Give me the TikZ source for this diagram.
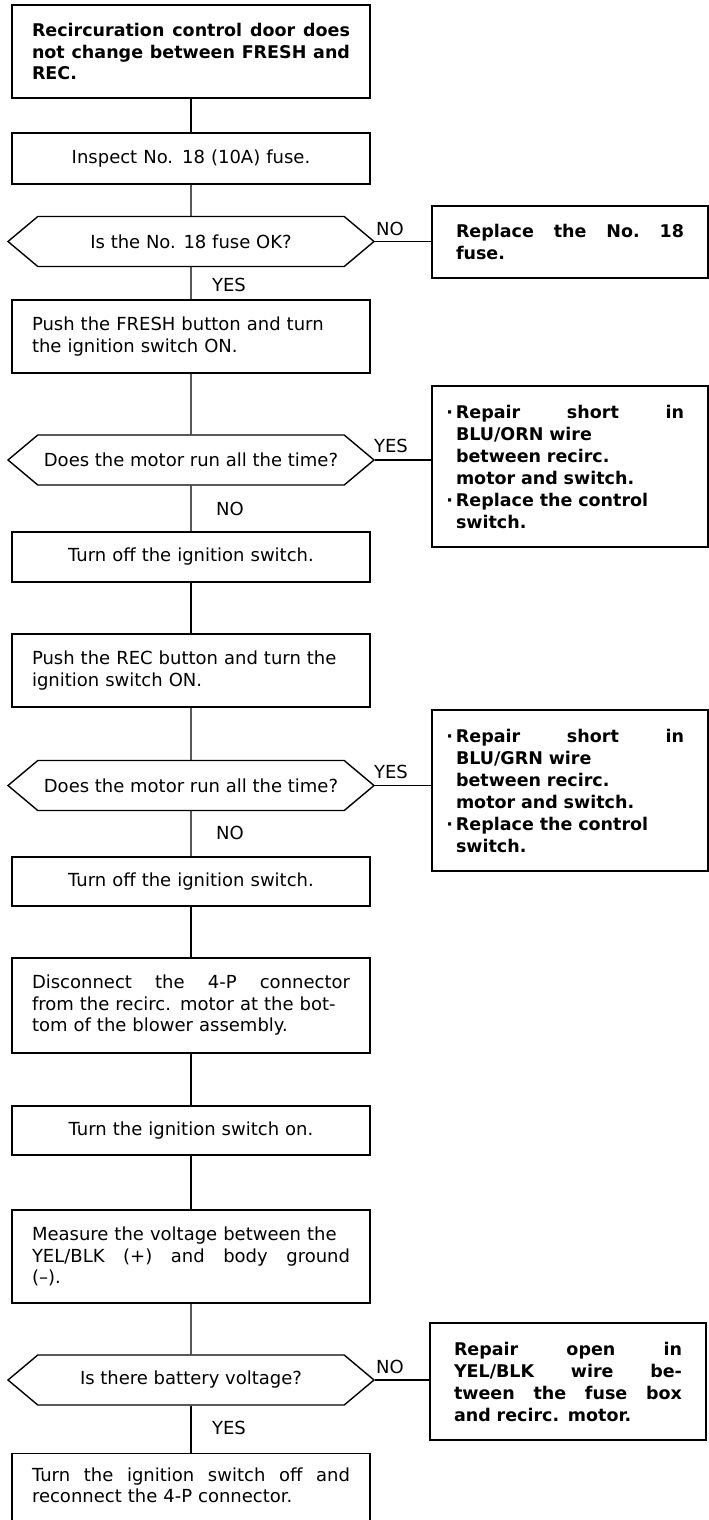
\documentclass[tikz,border=0pt]{standalone}
\usepackage{fontspec}
\setmainfont{DejaVu Sans}
\usetikzlibrary{shapes.symbols}

\begin{document}
\begin{tikzpicture}[x=1pt, y=-1pt, line width=1.4pt,
    stepbox/.style={draw, rectangle, text width=318pt, inner xsep=20pt, inner ysep=0pt, align=left, font=\fontsize{18}{21.5}\selectfont},
    fixbox/.style={draw, rectangle, text width=228pt, inner xsep=24pt, inner ysep=0pt, align=left, font=\fontsize{17.5}{22}\selectfont\bfseries},
    decision/.style={draw, signal, signal to=west and east, signal pointer angle=80, minimum width=366pt, minimum height=50pt, inner sep=0pt, font=\fontsize{18}{21.5}\selectfont},
    answer/.style={font=\fontsize{18}{21.5}\selectfont, inner sep=0pt}]

    \useasboundingbox (0,0) rectangle (709,1520);
    \clip (0,0) rectangle (709,1520);

    % symptom
    \node[stepbox, font=\fontsize{17.5}{21.5}\selectfont\bfseries, minimum height=93pt] (symptom) at (191,51.5) {Recircuration\hfill control\hfill door\hfill does\\ not\hfill change\hfill between\hfill FRESH\hfill and\\ REC.};

    % fuse
    \node[stepbox, align=center, minimum height=51pt] (fuse) at (191,158.5) {Inspect No. 18 (10A) fuse.};
    \node[decision] (fuseok) at (191,241.5) {Is the No. 18 fuse OK?};
    \node[fixbox, minimum height=72pt] (newfuse) at (570,242) {Replace\hfill the\hfill No.\hfill 18\\ fuse.};
    \node[answer] (no1) at (390,229) {NO};
    \node[answer] (yes1) at (229,285) {YES};

    % FRESH
    \node[stepbox, minimum height=73pt] (fresh) at (191,336.5) {Push the FRESH button and turn\\ the ignition switch ON.};
    \node[decision] (runfresh) at (191,460) {Does the motor run all the time?};
    \node[fixbox, minimum height=161pt] (shortorn) at (570,466.5) {\leavevmode\llap{·\,}Repair\hfill short\hfill in\\ BLU/ORN wire\\ between recirc.\\ motor and switch.\\ \leavevmode\llap{·\,}Replace the control\\ switch.};
    \node[answer] (yes2) at (391,446) {YES};
    \node[answer] (no2) at (230,509) {NO};
    \node[stepbox, align=center, minimum height=50pt] (off1) at (191,557) {Turn off the ignition switch.};

    % REC
    \node[stepbox, minimum height=73pt] (rec) at (191,670.5) {Push the REC button and turn the\\ ignition switch ON.};
    \node[decision] (runrec) at (191,785.5) {Does the motor run all the time?};
    \node[fixbox, minimum height=161pt] (shortgrn) at (570,790.5) {\leavevmode\llap{·\,}Repair\hfill short\hfill in\\ BLU/GRN wire\\ between recirc.\\ motor and switch.\\ \leavevmode\llap{·\,}Replace the control\\ switch.};
    \node[answer] (yes3) at (391,772) {YES};
    \node[answer] (no3) at (230,833) {NO};
    \node[stepbox, align=center, minimum height=49pt] (off2) at (191,881.5) {Turn off the ignition switch.};

    % voltage
    \node[stepbox, minimum height=95pt] (unplug) at (191,1005.5) {Disconnect\hfill the\hfill 4-P\hfill connector\\ from the recirc. motor at the bot-\\ tom of the blower assembly.};
    \node[stepbox, align=center, minimum height=49pt] (on) at (191,1130.5) {Turn the ignition switch on.};
    \node[stepbox, minimum height=93pt] (measure) at (191,1256.5) {Measure the voltage between the\\ YEL/BLK\hfill (+)\hfill and\hfill body\hfill ground\\ (--).};
    \node[decision] (battery) at (191,1380) {Is there battery voltage?};
    \node[fixbox, minimum height=117pt] (openyel) at (568,1381.5) {Repair\hfill open\hfill in\\ YEL/BLK\hfill wire\hfill be-\\ tween\hfill the\hfill fuse\hfill box\\ and recirc. motor.};
    \node[answer] (no4) at (390,1367) {NO};
    \node[answer] (yes4) at (229,1428) {YES};
    \node[stepbox, anchor=north, inner ysep=14pt, text depth=80pt] (reconnect) at (191,1453) {Turn\hfill the\hfill ignition\hfill switch\hfill off\hfill and\\ reconnect the 4-P connector.};

    % connectors
    \draw (symptom) -- (fuse);
    \draw (fuse) -- (fuseok);
    \draw (fuseok) -- (fresh);
    \draw (fuseok.east) -- (fuseok.east -| newfuse.west);
    \draw (fresh) -- (runfresh);
    \draw (runfresh) -- (off1);
    \draw (runfresh.east) -- (runfresh.east -| shortorn.west);
    \draw (off1) -- (rec);
    \draw (rec) -- (runrec);
    \draw (runrec) -- (off2);
    \draw (runrec.east) -- (runrec.east -| shortgrn.west);
    \draw (off2) -- (unplug);
    \draw (unplug) -- (on);
    \draw (on) -- (measure);
    \draw (measure) -- (battery);
    \draw (battery) -- (reconnect);
    \draw (battery.east) -- (battery.east -| openyel.west);

\end{tikzpicture}
\end{document}
